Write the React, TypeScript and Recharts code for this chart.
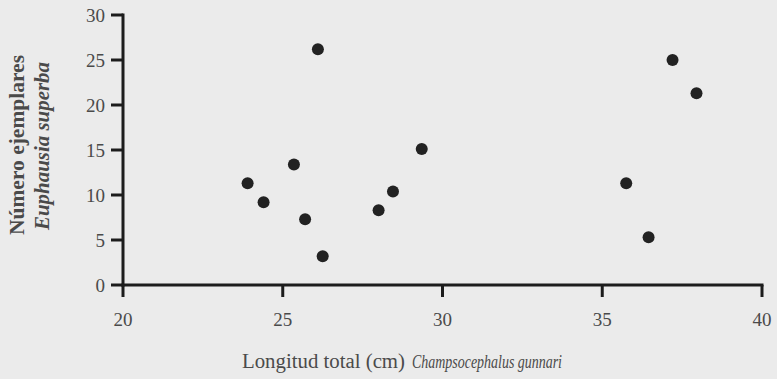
import React from 'react';
import { ScatterChart, Scatter, XAxis, YAxis, Label, ReferenceLine } from 'recharts';

// longitud total (cm) de Champsocephalus gunnari
const longitud = [23.9, 24.4, 25.35, 25.7, 26.1, 26.25, 28.0, 28.45, 29.35, 35.75, 36.45, 37.2, 37.95];
// número de ejemplares de Euphausia superba
const ejemplares = [11.3, 9.2, 13.4, 7.3, 26.2, 3.2, 8.3, 10.4, 15.1, 11.3, 5.3, 25.0, 21.3];

const xTicks = [20, 25, 30, 35, 40];
const yTicks = [0, 5, 10, 15, 20, 25, 30];

const points = longitud.map((x, i) => ({ x, y: ejemplares[i] }));

const FONT = '"Liberation Serif", "DejaVu Serif", serif';
const TEXT = '#4a4a4a';
const INK = '#1c1c1c';
const TICK = 12;
const GAP_X = 16;
const GAP_Y = 6;

// ticks drawn by hand so the marks can be as heavy as the printed ones
const XTick = (props: any) => {
  const { x, y, payload } = props;
  const base = y - GAP_X - TICK;
  return (
    <g>
      <line x1={x} x2={x} y1={base} y2={base + TICK} stroke={INK} strokeWidth={3} />
      <text x={x} y={y} dy="0.71em" textAnchor="middle" fill={TEXT} fontSize={19} fontFamily={FONT}>
        {payload.value}
      </text>
    </g>
  );
};

const YTick = (props: any) => {
  const { x, y, payload } = props;
  const base = x + GAP_Y + TICK;
  return (
    <g>
      <line x1={base - TICK} x2={base} y1={y} y2={y} stroke={INK} strokeWidth={3} />
      <text x={x} y={y} dy="0.355em" textAnchor="end" fill={TEXT} fontSize={19} fontFamily={FONT}>
        {payload.value}
      </text>
    </g>
  );
};

const XTitle = () => (
  <g fontFamily={FONT} fill={TEXT}>
    <text x={242} y={368} fontSize={20} textLength={163} lengthAdjust="spacingAndGlyphs">
      Longitud total (cm)
    </text>
    <text x={412} y={368} fontSize={19} fontStyle="italic" textLength={150} lengthAdjust="spacingAndGlyphs">
      Champsocephalus gunnari
    </text>
  </g>
);

const YTitle = () => (
  <g fontFamily={FONT} fontSize={21} fill={TEXT} textAnchor="middle" fontWeight={600}>
    <text
      x={17}
      y={145}
      transform="rotate(-90 17 145)"
      dy="0.35em"
      textLength={180}
      lengthAdjust="spacingAndGlyphs"
    >
      Número ejemplares
    </text>
    <text
      x={42}
      y={146}
      transform="rotate(-90 42 146)"
      dy="0.35em"
      fontStyle="italic"
      textLength={168}
      lengthAdjust="spacingAndGlyphs"
    >
      Euphausia superba
    </text>
  </g>
);

const Dot = (props: any) => <circle cx={props.cx} cy={props.cy} r={6} fill="#222222" />;

export default function App() {
  return (
    <div style={{ position: 'absolute', left: 0, top: 0, width: 777, height: 379, background: '#ebebeb' }}>
      <ScatterChart width={777} height={379} margin={{ top: 15, right: 15, bottom: 0, left: 0 }}>
        <XAxis
          type="number"
          dataKey="x"
          domain={[20, 40]}
          ticks={xTicks}
          height={94}
          tickSize={TICK}
          tickMargin={GAP_X}
          axisLine={false}
          tickLine={false}
          tick={<XTick />}
          interval={0}
        >
          <Label content={<XTitle />} />
        </XAxis>
        <YAxis
          type="number"
          dataKey="y"
          domain={[0, 30]}
          ticks={yTicks}
          width={123}
          tickSize={TICK}
          tickMargin={GAP_Y}
          axisLine={false}
          tickLine={false}
          tick={<YTick />}
          interval={0}
        >
          <Label content={<YTitle />} />
        </YAxis>
        <ReferenceLine x={20} stroke={INK} strokeWidth={3} strokeLinecap="square" />
        <ReferenceLine y={0} stroke={INK} strokeWidth={3} strokeLinecap="square" />
        <Scatter data={points} fill="#222222" shape={<Dot />} isAnimationActive={false} />
      </ScatterChart>
    </div>
  );
}
